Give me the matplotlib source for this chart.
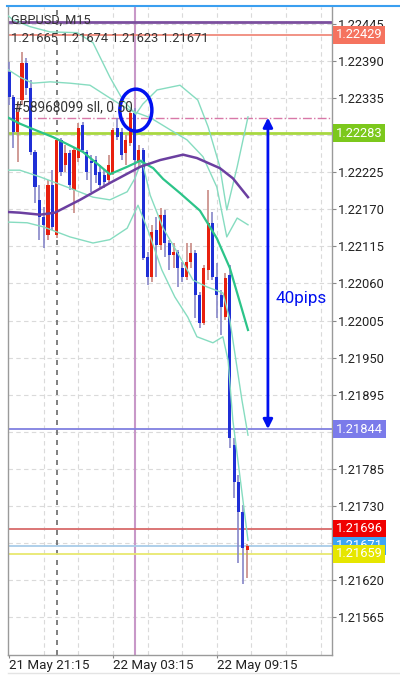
import numpy as np
import matplotlib
matplotlib.use("Agg")
import matplotlib.pyplot as plt
from matplotlib.patches import Ellipse
from matplotlib.lines import Line2D

plt.rcParams['font.family'] = ['Roboto', 'DejaVu Sans']

# GBPUSD M15 candles, 21 May 21:15 onwards
opens = [1.22374, 1.22337, 1.22285, 1.22332, 1.22387, 1.22350, 1.22255, 1.22184, 1.22159, 1.22132,
         1.22206, 1.22132, 1.22273, 1.22236, 1.22254, 1.22199, 1.22246, 1.22295, 1.22255, 1.22242,
         1.22243, 1.22225, 1.22221, 1.22213, 1.22224, 1.22291, 1.22285, 1.22254, 1.22268, 1.22313,
         1.22240, 1.22258, 1.22099, 1.22070, 1.22139, 1.22117, 1.22162, 1.22120, 1.22102, 1.22107,
         1.22083, 1.22070, 1.22092, 1.22105, 1.22043, 1.22001, 1.22080, 1.22150, 1.22070, 1.22043,
         1.22010, 1.22073, 1.21820, 1.21765, 1.21721, 1.21665]
highs = [1.22389, 1.22340, 1.22329, 1.22403, 1.22395, 1.22362, 1.22258, 1.22206, 1.22173, 1.22213,
         1.22228, 1.22276, 1.22276, 1.22265, 1.22258, 1.22262, 1.22298, 1.22300, 1.22258, 1.22251,
         1.22249, 1.22236, 1.22228, 1.22251, 1.22291, 1.22306, 1.22291, 1.22280, 1.22317, 1.22320,
         1.22265, 1.22261, 1.22107, 1.22147, 1.22159, 1.22172, 1.22169, 1.22125, 1.22120, 1.22110,
         1.22092, 1.22120, 1.22120, 1.22110, 1.22047, 1.22087, 1.22199, 1.22166, 1.22090, 1.22050,
         1.22076, 1.22087, 1.21831, 1.21776, 1.21731, 1.21674]
lows = [1.22325, 1.22261, 1.22240, 1.22325, 1.22340, 1.22251, 1.22179, 1.22125, 1.22113, 1.22125,
        1.22139, 1.22127, 1.22219, 1.22225, 1.22199, 1.22165, 1.22240, 1.22255, 1.22213, 1.22196,
        1.22209, 1.22202, 1.22202, 1.22209, 1.22221, 1.22273, 1.22243, 1.22236, 1.22264, 1.22236,
        1.22231, 1.22095, 1.22058, 1.22062, 1.22070, 1.22110, 1.22099, 1.22080, 1.22083, 1.22055,
        1.22062, 1.22065, 1.22083, 1.22009, 1.21994, 1.21998, 1.22065, 1.22065, 1.22009, 1.21983,
        1.22006, 1.21816, 1.21742, 1.21645, 1.21615, 1.21623]
closes = [1.22337, 1.22285, 1.22314, 1.22387, 1.22350, 1.22255, 1.22203, 1.22159, 1.22147, 1.22206,
          1.22144, 1.22273, 1.22225, 1.22254, 1.22206, 1.22258, 1.22291, 1.22258, 1.22225, 1.22239,
          1.22221, 1.22206, 1.22211, 1.22236, 1.22288, 1.22277, 1.22251, 1.22273, 1.22313, 1.22243,
          1.22258, 1.22098, 1.22070, 1.22136, 1.22117, 1.22162, 1.22120, 1.22102, 1.22107, 1.22083,
          1.22070, 1.22092, 1.22105, 1.22043, 1.22001, 1.22083, 1.22150, 1.22070, 1.22043, 1.22025,
          1.22068, 1.21831, 1.21765, 1.21721, 1.21667, 1.21671]

# indicator lines (bar index, price)
ma_bars = [-0.2, 2.5, 7.2, 10.6, 16.4, 23.3, 30.3, 34.9, 40.2, 43.4, 48.7, 51.7, 55.2]
ma_vals = [1.22166, 1.22165, 1.22162, 1.22165, 1.22184, 1.22209, 1.22233, 1.22243, 1.22251,
           1.22246, 1.22231, 1.22216, 1.22188]

mid_bars = [-0.2, 2.5, 5.5, 10.2, 17.1, 23.3, 27.3, 30.3, 33.3, 35.6, 39.5, 44.1, 48.0, 51.0, 55.2]
mid_vals = [1.22306, 1.22297, 1.22289, 1.22277, 1.22255, 1.22222, 1.22233, 1.22242, 1.22231,
            1.22215, 1.22194, 1.22168, 1.22127, 1.22083, 1.21991]

up2_bars = [-0.2, 0.9, 4.8, 9.5, 15.7, 19.4, 23.3, 26.3, 29.3, 30.9, 34.2, 39.5, 43.6, 46.0,
            48.7, 50.3, 52.7, 55.2]
up2_vals = [1.22457, 1.22451, 1.22441, 1.22433, 1.22432, 1.22417, 1.22366, 1.22332, 1.22311,
            1.22326, 1.22347, 1.22354, 1.22332, 1.22292, 1.22233, 1.22169, 1.22233, 1.22307]

up1_bars = [-0.2, 2.5, 5.5, 9.5, 14.1, 18.7, 23.3, 27.9, 32.6, 37.2, 41.1, 44.8, 48.0, 50.3,
            52.7, 55.2]
up1_vals = [1.22377, 1.22366, 1.22357, 1.22359, 1.22357, 1.22354, 1.22335, 1.22317, 1.22306,
            1.22288, 1.22273, 1.22248, 1.22203, 1.22129, 1.22157, 1.22147]

lo1_bars = [-0.2, 2.5, 7.2, 13.4, 19.4, 23.3, 27.3, 29.1, 30.7, 32.6, 35.6, 39.5, 42.5, 45.7,
            49.4, 51.0, 53.8, 55.2]
lo1_vals = [1.22228, 1.22228, 1.22218, 1.22203, 1.22188, 1.22184, 1.22196, 1.22216, 1.22243,
            1.22191, 1.22142, 1.22099, 1.22065, 1.22055, 1.22046, 1.22006, 1.21887, 1.21835]

lo2_bars = [-0.2, 4.2, 7.9, 14.1, 19.4, 23.3, 27.3, 29.8, 32.1, 35.3, 38.3, 41.3, 43.4, 47.1,
            49.4, 50.6, 51.7, 55.2]
lo2_vals = [1.22151, 1.22150, 1.22144, 1.22129, 1.22120, 1.22125, 1.22142, 1.22176, 1.22139,
            1.22080, 1.22040, 1.22010, 1.21981, 1.21972, 1.21981, 1.21946, 1.21857, 1.21679]

# horizontal levels: price, line colour, label box colour (None = no box)
levels = [
    (1.22448, '#7b4f9e', None),
    (1.22429, '#f08a7c', '#f5735f'),
    (1.22283, '#a8d840', '#7cc81c'),
    (1.21844, '#8080e0', '#7b7bea'),
    (1.21696, '#d86a6a', '#f00000'),
    (1.21671, '#a8cce8', '#3da5f4'),
    (1.21659, '#e8e870', '#e6e600'),
]
order_price = 1.22306
order_text = '#58968099 sll, 0.50'

ytick_vals = [1.21565, 1.21620, 1.21675, 1.21730, 1.21785, 1.21840, 1.21895, 1.21950, 1.22005,
              1.22060, 1.22115, 1.22170, 1.22225, 1.22280, 1.22335, 1.22390, 1.22445]
# these sit under the coloured price boxes
hidden_ticks = [1.21675, 1.21840, 1.22280]
xtick_bars = [0, 24, 48]
xtick_labels = ['21 May 21:15', '22 May 03:15', '22 May 09:15']
grid_bars = [8, 16, 24, 32, 40, 48, 56, 64, 72]
day_sep_bar = 11
marker_bar = 29


def draw_candles(ax):
    o = np.array(opens)
    h = np.array(highs)
    l = np.array(lows)
    c = np.array(closes)
    x = np.arange(len(o))
    up = c >= o
    body_col = np.where(up, '#e8200e', '#1f2fd6')
    wick_col = np.where(up, '#c88a84', '#8686c8')
    ax.vlines(x, l, h, colors=wick_col, linewidth=1.2, zorder=3)
    bottom = np.minimum(o, c)
    height = np.maximum(np.abs(c - o), 0.000015)
    ax.bar(x, height, bottom=bottom, width=0.72, color=body_col, zorder=3.5)


def main():
    fig = plt.figure(figsize=(4, 6.78), dpi=100)
    ax = fig.add_axes([8 / 400, 1 - 655 / 678, 324 / 400, 648 / 678])
    ax.set_xlim(-0.23, 74.6)
    ax.set_ylim(1.21509, 1.22470)

    # grid
    for b in grid_bars:
        ax.axvline(b, color='#dadada', lw=0.8, ls=(0, (4, 3)), zorder=0)
    for v in ytick_vals:
        ax.axhline(v, color='#dadada', lw=0.8, ls=(0, (4, 3)), zorder=0)
    ax.axvline(day_sep_bar, color='#6a6a6a', lw=1.2, ls=(0, (3, 3)), zorder=0.5)
    ax.axvline(marker_bar, color='#c898c8', lw=1.5, zorder=0.6)

    # price levels
    for price, col, box in levels:
        lw = 2.0 if col in ('#7b4f9e', '#a8d840') else 1.3
        ax.axhline(price, color=col, lw=lw, zorder=1)
    ax.axhline(order_price, color='#d878a8', lw=1, ls='-.', zorder=1)

    draw_candles(ax)

    # bands and averages
    for bx, by in [(up2_bars, up2_vals), (up1_bars, up1_vals), (lo1_bars, lo1_vals), (lo2_bars, lo2_vals)]:
        ax.plot(bx, by, color='#86dcc0', lw=1.0, zorder=4)
    ax.plot(mid_bars, mid_vals, color='#2cc489', lw=1.6, zorder=4.2)
    ax.plot(ma_bars, ma_vals, color='#6b3fa0', lw=1.8, zorder=4.3)

    # annotations
    ax.add_patch(Ellipse((29.3, 1.22317), 7.4, 0.000623, fill=False, ec='#0010f0', lw=2.5, zorder=6))
    ax.annotate('', xy=(59.8, order_price), xytext=(59.8, 1.21844),
                arrowprops=dict(arrowstyle='<|-|>', color='#0010f0', lw=2, mutation_scale=14,
                                shrinkA=0, shrinkB=0), zorder=6)
    ax.text(61.6, 1.22038, '40pips', color='#0010f0', fontsize=12.3, va='center', ha='left', zorder=6)
    ax.annotate(order_text, xy=(0.02, order_price), xycoords=('axes fraction', 'data'),
                xytext=(0, 2.5), textcoords='offset points', fontsize=9.8, color='#333333',
                va='bottom', ha='left', zorder=6)

    # axes look
    ax.yaxis.tick_right()
    ax.set_yticks(ytick_vals)
    ax.set_yticklabels(['' if v in hidden_ticks else '%.5f' % v for v in ytick_vals])
    ax.set_xticks(xtick_bars)
    ax.set_xticklabels(xtick_labels)
    for lbl in ax.get_xticklabels():
        lbl.set_horizontalalignment('left')
    ax.tick_params(axis='y', length=3, width=0.8, color='#888888', pad=1, labelsize=9.3, labelcolor='#222222')
    ax.tick_params(axis='x', length=2, width=0.8, color='#888888', pad=1, labelsize=9.6, labelcolor='#222222')
    for side in ['left', 'right', 'bottom']:
        ax.spines[side].set_color('#9a9a9a')
        ax.spines[side].set_linewidth(1)
    ax.spines['top'].set_visible(False)

    # price label boxes on the right axis
    ytr = ax.get_yaxis_transform()
    for price, col, box in levels:
        if box is None:
            continue
        ax.text(1.0123, price, '%.5f' % price, transform=ytr, color='white', fontsize=9.3,
                va='center', ha='left', zorder=10, clip_on=False,
                bbox=dict(boxstyle='square,pad=0.2', fc=box, ec='none'))

    # header
    fig.text(11 / 400, 1 - 20 / 678, 'GBPUSD, M15', fontsize=9.2, color='#333333', va='center')
    fig.text(11 / 400, 1 - 39 / 678, '1.21665 1.21674 1.21623 1.21671', fontsize=9.3,
             color='#333333', va='center')

    fig.add_artist(Line2D([7 / 400, 1], [1 - 6 / 678] * 2, color='#3a9ff0', lw=1.5))
    fig.add_artist(Line2D([8 / 400, 1], [1 - 673 / 678] * 2, color='#e4e4e4', lw=1))

    fig.savefig('out.png', dpi=100, facecolor='white')


if __name__ == "__main__":
    main()
